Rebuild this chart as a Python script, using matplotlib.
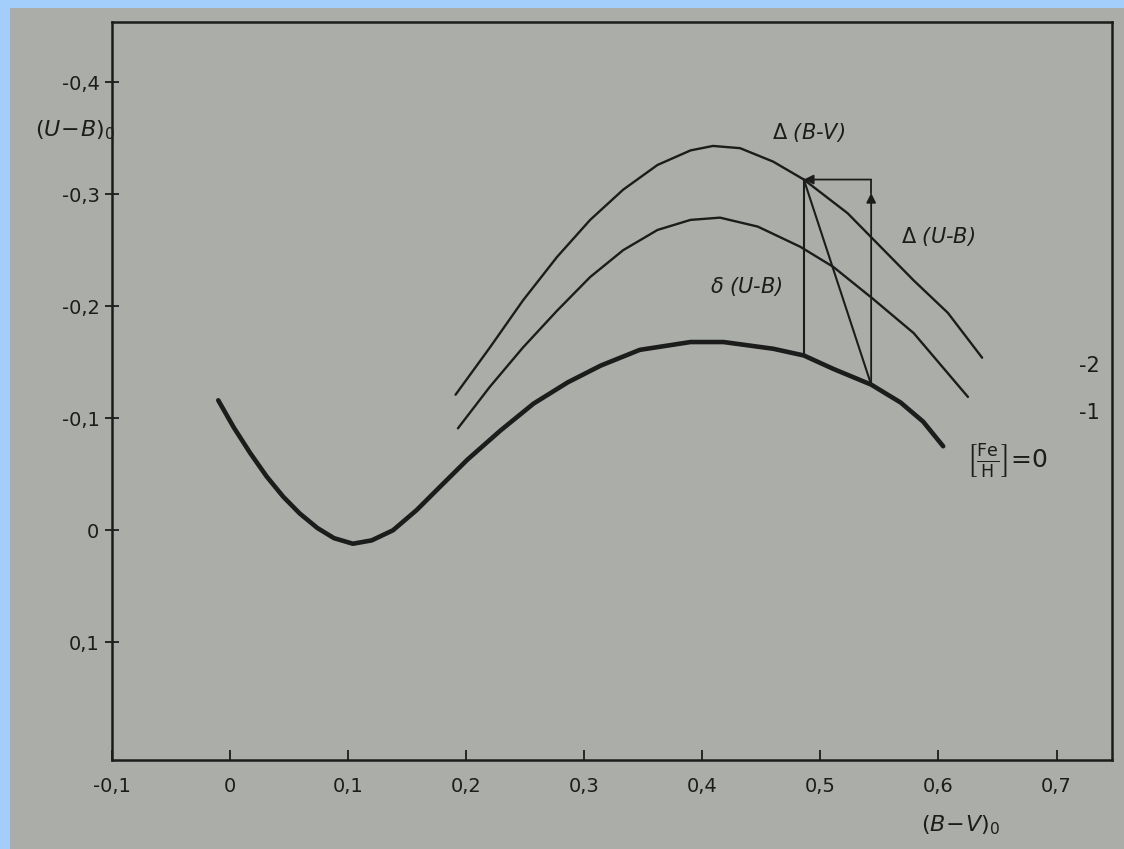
import matplotlib
matplotlib.use("Agg")
import matplotlib.pyplot as plt
from matplotlib.patches import Rectangle

# (B-V)_0 and (U-B)_0 values for the three metallicity curves
bv_fe0 = [-0.010, 0.003, 0.017, 0.031, 0.045, 0.059, 0.074, 0.088, 0.104, 0.120,
          0.138, 0.158, 0.178, 0.201, 0.229, 0.257, 0.286, 0.314, 0.347, 0.390,
          0.418, 0.460, 0.486, 0.511, 0.543, 0.568, 0.587, 0.604]
ub_fe0 = [-0.116, -0.092, -0.069, -0.048, -0.030, -0.015, -0.002, 0.007, 0.012, 0.009,
          0.000, -0.018, -0.039, -0.063, -0.089, -0.113, -0.132, -0.147, -0.161, -0.168,
          -0.168, -0.162, -0.156, -0.144, -0.130, -0.114, -0.097, -0.075]

bv_fe1 = [0.193, 0.220, 0.248, 0.277, 0.305, 0.333, 0.362, 0.390, 0.415, 0.447,
          0.483, 0.511, 0.544, 0.579, 0.625]
ub_fe1 = [-0.091, -0.128, -0.163, -0.196, -0.226, -0.250, -0.268, -0.277, -0.279, -0.271,
          -0.253, -0.235, -0.207, -0.176, -0.119]

bv_fe2 = [0.191, 0.220, 0.248, 0.277, 0.305, 0.333, 0.362, 0.390, 0.409, 0.432,
          0.460, 0.486, 0.523, 0.551, 0.579, 0.608, 0.637]
ub_fe2 = [-0.121, -0.163, -0.205, -0.244, -0.277, -0.304, -0.326, -0.339, -0.343, -0.341,
          -0.329, -0.313, -0.283, -0.253, -0.223, -0.194, -0.154]

# excess construction: star on the -2 curve and the two points on [Fe/H]=0
bv_star, ub_star = 0.486, -0.313
bv_same, ub_same = 0.486, -0.156
bv_shift, ub_shift = 0.543, -0.130

x_ticks = [-0.1, 0, 0.1, 0.2, 0.3, 0.4, 0.5, 0.6, 0.7]
x_tick_labels = ["-0,1", "0", "0,1", "0,2", "0,3", "0,4", "0,5", "0,6", "0,7"]
y_ticks = [-0.4, -0.3, -0.2, -0.1, 0, 0.1]
y_tick_labels = ["-0,4", "-0,3", "-0,2", "-0,1", "0", "0,1"]

W, H = 1124, 849
fig = plt.figure(figsize=(W / 100, H / 100), dpi=100)
fig.patch.set_facecolor("#a3cdfb")
fig.patches.append(Rectangle((10 / W, 0), 1 - 10 / W, 1 - 8 / H,
                             transform=fig.transFigure, facecolor="#abaea8",
                             edgecolor="none", zorder=-10))

ax = fig.add_axes([112 / W, 1 - 760 / H, (1112 - 112) / W, (760 - 22) / H])
ax.set_facecolor("none")
ink = "#1c1c1c"

ax.plot(bv_fe0, ub_fe0, color=ink, lw=3.3, solid_capstyle="round", solid_joinstyle="round")
ax.plot(bv_fe1, ub_fe1, color=ink, lw=1.7, solid_capstyle="round", solid_joinstyle="round")
ax.plot(bv_fe2, ub_fe2, color=ink, lw=1.7, solid_capstyle="round", solid_joinstyle="round")

# construction lines and arrows
ax.plot([bv_same, bv_star], [ub_same, ub_star], color=ink, lw=1.5)
ax.plot([bv_star, bv_shift], [ub_star, ub_shift], color=ink, lw=1.5)
ax.annotate("", xy=(bv_shift, ub_star + 0.012), xytext=(bv_shift, ub_shift),
            arrowprops=dict(arrowstyle="-|>", color=ink, lw=1.3, mutation_scale=14,
                            shrinkA=0, shrinkB=0))
ax.plot([bv_shift, bv_shift], [ub_star + 0.012, ub_star], color=ink, lw=1.3)
ax.annotate("", xy=(bv_star, ub_star), xytext=(bv_shift, ub_star),
            arrowprops=dict(arrowstyle="-|>", color=ink, lw=1.3, mutation_scale=14,
                            shrinkA=0, shrinkB=0))

lab = dict(color=ink, fontsize=15, style="italic", ha="center", va="center")
ax.text(0.49, -0.355, r"$\Delta$ (B-V)", **lab)
ax.text(0.60, -0.262, r"$\Delta$ (U-B)", **lab)
ax.text(0.437, -0.218, r"$\delta$ (U-B)", **lab)
ax.text(0.737, -0.147, "-2", color=ink, fontsize=15, ha="right", va="center")
ax.text(0.737, -0.105, "-1", color=ink, fontsize=15, ha="right", va="center")
ax.text(0.658, -0.062, r"$\left[\frac{\mathrm{Fe}}{\mathrm{H}}\right]$=0",
        color=ink, fontsize=18, ha="center", va="center")

ax.set_xlim(-0.1, 0.747)
ax.set_ylim(0.205, -0.4536)
ax.set_xticks(x_ticks)
ax.set_xticklabels(x_tick_labels)
ax.set_yticks(y_ticks)
ax.set_yticklabels(y_tick_labels)
ax.tick_params(axis="x", direction="in", length=7, width=1.3, colors=ink,
               labelsize=14, pad=12)
ax.tick_params(axis="y", direction="inout", length=10, width=1.3, colors=ink,
               labelsize=14, pad=4)
for s in ax.spines.values():
    s.set_color(ink)
    s.set_linewidth(1.8)

fig.text(75 / W, 1 - 130 / H, r"$(U\!-\!B)_0$", color=ink, fontsize=16,
         ha="center", va="center")
fig.text(960 / W, 1 - 825 / H, r"$(B\!-\!V)_0$", color=ink, fontsize=16,
         ha="center", va="center")

fig.savefig("out.png", dpi=100, facecolor=fig.get_facecolor())
